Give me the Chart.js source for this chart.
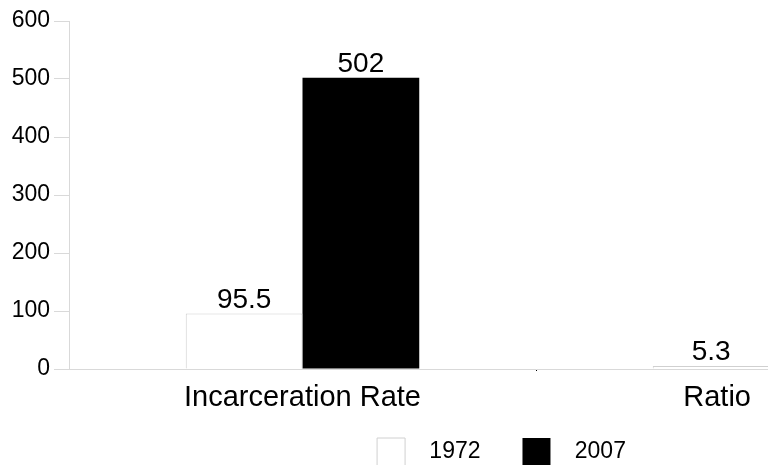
<!DOCTYPE html>
<html>
<head>
<meta charset="utf-8">
<script src="https://cdn.jsdelivr.net/npm/chart.js@4"></script>
<style>
    html, body { margin: 0; padding: 0; background: #fff; }
    #wrap { width: 768px; height: 465px; overflow: hidden; position: relative; }
    #box { width: 1010px; height: 476px; }
</style>
</head>
<body>
<div id="wrap"><div id="box"><canvas id="chart"></canvas></div></div>
<script>
// =======================
// DATA
// =======================
const categories = ['Incarceration Rate', 'Ratio'];
const seriesNames = ['1972', '2007'];
const values1972 = [95.5, 5.3];
const values2007 = [502, null];
const yTicks = [0, 100, 200, 300, 400, 500, 600];

const FONT = "'Liberation Sans', Arial, sans-serif";

// draws the value above every bar
const valueLabels = {
    id: 'valueLabels',
    afterDatasetsDraw(chart) {
        const ctx = chart.ctx;
        ctx.save();
        ctx.font = `28px ${FONT}`;
        ctx.fillStyle = '#000';
        ctx.textAlign = 'center';
        ctx.textBaseline = 'alphabetic';
        chart.data.datasets.forEach((ds, di) => {
            const meta = chart.getDatasetMeta(di);
            meta.data.forEach((bar, i) => {
                const v = ds.data[i];
                if (v === null || v === undefined) return;
                ctx.fillText(String(v), bar.x, bar.y - 6);
            });
        });
        ctx.restore();
    }
};

new Chart(document.getElementById('chart'), {
    type: 'bar',
    data: {
        labels: categories,
        datasets: [{
            label: seriesNames[0],
            data: values1972,
            backgroundColor: '#ffffff',
            borderColor: '#d0d0d0',
            borderWidth: 1,
            categoryPercentage: 0.5,
            barPercentage: 1.0
        }, {
            label: seriesNames[1],
            data: values2007,
            backgroundColor: '#000000',
            borderColor: '#000000',
            borderWidth: 0,
            categoryPercentage: 0.5,
            barPercentage: 1.0
        }]
    },
    options: {
        responsive: true,
        maintainAspectRatio: false,
        animation: false,
        layout: { padding: { top: 21, right: 7, left: 0, bottom: 0 } },
        plugins: {
            tooltip: { enabled: false },
            legend: {
                position: 'bottom',
                labels: {
                    color: '#000',
                    font: { family: FONT, size: 23 },
                    boxWidth: 28,
                    boxHeight: 28,
                    padding: 10,
                    generateLabels(chart) {
                        return chart.data.datasets.map((ds, i) => ({
                            // leading spaces widen the box-to-text gap, trailing ones the item gap
                            text: '  ' + ds.label + (i === 0 ? '     ' : ''),
                            fillStyle: ds.backgroundColor,
                            strokeStyle: ds.borderColor,
                            lineWidth: i === 0 ? 1 : 0,
                            datasetIndex: i
                        }));
                    }
                }
            }
        },
        scales: {
            x: {
                afterFit(scale) { scale.height = 59; },
                grid: {
                    offset: true,
                    drawOnChartArea: false,
                    tickLength: 2,
                    color: c => c.index === 1 ? '#000' : 'rgba(0,0,0,0)'
                },
                border: { color: '#d9d9d9' },
                ticks: {
                    color: '#000',
                    padding: 10,
                    font: { family: FONT, size: 29 },
                    callback(v, i) {
                        const s = categories[i];
                        return s === 'Ratio' ? s + '             ' : s;
                    }
                }
            },
            y: {
                min: 0,
                max: 600,
                afterFit(scale) { scale.width = 69; },
                afterBuildTicks(scale) { scale.ticks = yTicks.map(v => ({ value: v })); },
                grid: {
                    drawOnChartArea: false,
                    tickLength: 15,
                    color: '#d9d9d9'
                },
                border: { color: '#d9d9d9' },
                ticks: {
                    color: '#000',
                    padding: 4,
                    font: { family: FONT, size: 23 }
                }
            }
        }
    },
    plugins: [valueLabels]
});
</script>
</body>
</html>
